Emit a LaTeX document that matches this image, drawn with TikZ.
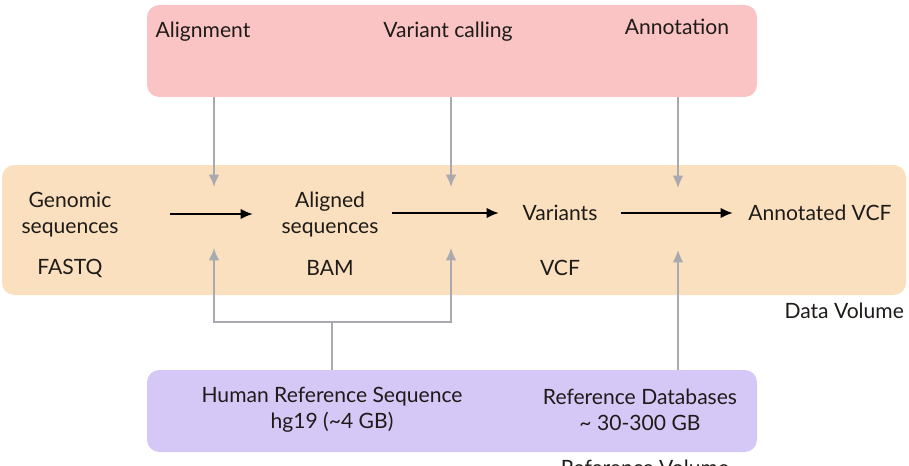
\documentclass[tikz,border=0pt]{standalone}
\usepackage{fontspec}
\setmainfont{Lato}
\usepackage{xcolor}
\usetikzlibrary{arrows.meta,positioning}

\definecolor{steppink}{RGB}{250,196,196}
\definecolor{dataorange}{RGB}{250,224,190}
\definecolor{refviolet}{RGB}{214,200,246}
\definecolor{linkgray}{RGB}{168,170,176}
\definecolor{textdark}{RGB}{30,27,25}

\tikzset{
  band/.style={rounded corners=7pt, draw=none},
  label/.style={text=textdark, align=center, inner sep=1pt},
  flow/.style={-{Latex[length=7pt,width=6pt]}, line width=1.4pt, black},
  feed/.style={-{Latex[length=7pt,width=6pt]}, line width=1.1pt, linkgray},
  link/.style={line width=1.1pt, linkgray}
}

\begin{document}
\begin{tikzpicture}[x=0.02cm, y=-0.02cm,
  every node/.style={font=\fontsize{12}{14.8}\selectfont}]
\useasboundingbox (0,0) rectangle (909,466);

% ======================================================================
% TOP : PIPELINE STEPS
% ======================================================================
\node[band, fill=steppink, minimum width=610*0.02cm, minimum height=92*0.02cm]
  (steps) at (452,51) {};
\node[label] (aln)   at (203,32) {Alignment};
\node[label] (call)  at (448,32) {Variant calling};
\node[label] (annot) at (677,27) {Annotation};

% ======================================================================
% MIDDLE : DATA BAND
% ======================================================================
\node[band, fill=dataorange, minimum width=904*0.02cm, minimum height=130*0.02cm]
  (data) at (454,230) {};

\node[label] (fastq) at (70,215) {Genomic\\sequences};
\node[label] (bam)   at (330,215) {Aligned\\sequences};
\node[label] (vcf)   at (560,213) {Variants};
\node[label] (anvcf) at (820,213) {Annotated VCF};

\node[label] (fastqfmt) at (70,268)  {FASTQ};
\node[label] (bamfmt)   at (330,268) {BAM};
\node[label] (vcffmt)   at (560,268) {VCF};

\node[label, anchor=east] (datavol) at (906,311) {Data Volume};

% black flow arrows
\draw[flow] (170,214) coordinate (f1) -- (253,214) coordinate (f2);
\draw[flow] (392,213) coordinate (f3) -- (499,213) coordinate (f4);
\draw[flow] (621,213) coordinate (f5) -- (733,213) coordinate (f6);

% tips of the feeding arrows
\coordinate (inA) at (214,187);
\coordinate (inC) at (451,187);
\coordinate (inN) at (678,188);
\coordinate (upA) at (214,248);
\coordinate (upC) at (451,248);
\coordinate (upN) at (678,250);

% steps feed down into the band
\draw[feed] (steps.south -| inA) -- (inA);
\draw[feed] (steps.south -| inC) -- (inC);
\draw[feed] (steps.south -| inN) -- (inN);

% ======================================================================
% BOTTOM : REFERENCES
% ======================================================================
\node[band, fill=refviolet, minimum width=610*0.02cm, minimum height=82*0.02cm]
  (refs) at (452,411) {};
\node[label] (hg19)  at (332,410) {Human Reference Sequence\\hg19 (\textasciitilde 4 GB)};
\node[label] (refdb) at (640,410) {Reference Databases\\\textasciitilde\ 30-300 GB};

\node[label, anchor=north] (refvol) at (645,458) {Reference Volume};

% reference links
\coordinate (split) at (332,322);
\draw[link] (refs.north -| split) -- (split);
\draw[feed] (split) -| (upA);
\draw[feed] (split) -| (upC);
\draw[feed] (refs.north -| upN) -- (upN);

\end{tikzpicture}
\end{document}
